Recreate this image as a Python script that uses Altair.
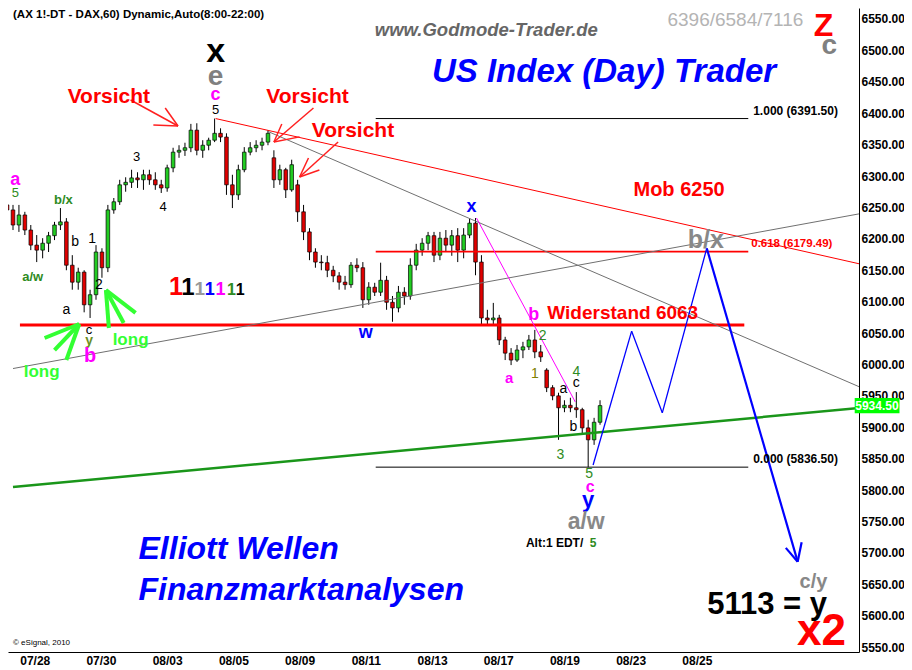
import altair as alt
import pandas as pd

FONT = "Liberation Sans"
W, H = 851, 644

# ---------------- price data (hourly candles, DAX future) ----------------
OPENS = [6254, 6246, 6222, 6238, 6214, 6190, 6182, 6193, 6205, 6222,
         6227, 6158, 6131, 6147, 6095, 6111, 6179, 6154, 6246, 6259,
         6286, 6290, 6297, 6294, 6302, 6294, 6286, 6281, 6313, 6338,
         6341, 6345, 6373, 6341, 6349, 6357, 6368, 6362, 6286, 6270,
         6310, 6338, 6345, 6349, 6354, 6329, 6294, 6310, 6278, 6286,
         6243, 6211, 6179, 6163, 6162, 6150, 6141, 6131, 6127, 6158,
         6154, 6103, 6123, 6115, 6134, 6099, 6090, 6115, 6109, 6158,
         6182, 6193, 6205, 6174, 6201, 6190, 6205, 6182, 6206, 6225,
         6163, 6074, 6071, 6074, 6039, 6018, 6007, 6023, 6028, 6039,
         6020, 5991, 5963, 5950, 5931, 5935, 5931, 5928, 5899, 5880,
         5908]
HIGHS = [6270, 6254, 6254, 6243, 6222, 6206, 6201, 6211, 6227, 6249,
         6233, 6174, 6154, 6150, 6119, 6190, 6185, 6254, 6265, 6294,
         6298, 6310, 6306, 6310, 6310, 6306, 6294, 6318, 6345, 6349,
         6353, 6383, 6384, 6357, 6361, 6391.5, 6376, 6368, 6302, 6318,
         6346, 6354, 6357, 6361, 6373, 6341, 6318, 6313, 6326, 6294,
         6254, 6217, 6185, 6174, 6173, 6157, 6147, 6141, 6163, 6169,
         6163, 6131, 6130, 6162, 6141, 6109, 6125, 6123, 6169, 6192,
         6201, 6211, 6211, 6211, 6214, 6214, 6217, 6217, 6233, 6233,
         6174, 6087, 6098, 6079, 6044, 6026, 6031, 6036, 6047, 6055,
         6031, 5994, 5967, 5955, 5943, 5947, 5956, 5931, 5912, 5915,
         5943]
LOWS = [6238, 6214, 6211, 6206, 6182, 6163, 6169, 6179, 6198, 6214,
        6150, 6119, 6119, 6083, 6074, 6103, 6138, 6147, 6240, 6254,
        6275, 6281, 6281, 6278, 6286, 6278, 6273, 6275, 6306, 6329,
        6332, 6338, 6333, 6329, 6341, 6354, 6354, 6270, 6249, 6262,
        6306, 6333, 6338, 6341, 6349, 6281, 6286, 6265, 6275, 6227,
        6198, 6166, 6154, 6150, 6139, 6131, 6119, 6119, 6122, 6147,
        6090, 6095, 6109, 6109, 6087, 6068, 6083, 6095, 6103, 6150,
        6173, 6182, 6163, 6166, 6179, 6173, 6163, 6169, 6201, 6142,
        6063, 6063, 6063, 6031, 6007, 5999, 6004, 6010, 6023, 6010,
        6004, 5956, 5943, 5880, 5924, 5924, 5915, 5888, 5836.5, 5872,
        5904]
CLOSES = [6246, 6222, 6238, 6214, 6190, 6182, 6193, 6205, 6222, 6227,
          6158, 6131, 6147, 6095, 6111, 6179, 6154, 6246, 6259, 6286,
          6290, 6297, 6294, 6302, 6294, 6286, 6281, 6313, 6338, 6341,
          6345, 6373, 6341, 6349, 6357, 6368, 6362, 6286, 6270, 6310,
          6338, 6345, 6349, 6354, 6368, 6294, 6310, 6278, 6318, 6243,
          6211, 6179, 6163, 6162, 6150, 6141, 6131, 6127, 6158, 6154,
          6103, 6123, 6115, 6134, 6099, 6090, 6115, 6109, 6158, 6182,
          6193, 6205, 6174, 6201, 6190, 6205, 6182, 6206, 6225, 6163,
          6074, 6071, 6074, 6039, 6018, 6007, 6023, 6028, 6039, 6020,
          6012, 5963, 5950, 5931, 5935, 5931, 5928, 5899, 5880, 5908,
          5934.5]

# x axis: bar positions of the date labels
DATES = ["07/28", "07/30", "08/03", "08/05", "08/09", "08/11",
         "08/13", "08/17", "08/19", "08/23", "08/25"]
DATE_POS = [4.67, 15.83, 27.0, 38.17, 49.33, 60.5, 71.67, 82.83, 94.0, 105.17, 116.33]
PRICE_TICKS = [5550, 5600, 5650, 5700, 5750, 5800, 5850, 5900, 5950, 6000, 6050,
               6100, 6150, 6200, 6250, 6300, 6350, 6400, 6450, 6500, 6550]

X_DOMAIN = [1.0, 142.83]
Y_DOMAIN = [5542.2, 6567.5]

# ---------------- drawn lines: (x1, y1, x2, y2, colour, width) ----------------
LEVEL_LINES = [
    (2.17, 6063, 124.33, 6063, "#ff0000", 3),
    (62.17, 6179.49, 125, 6179.49, "#ff0000", 1.8),
    (62.17, 6391.5, 125, 6391.5, "#000000", 1),
    (62.17, 5836.5, 125, 5836.5, "#000000", 1),
]
TREND_LINES = [
    (35.17, 6391.5, 143.83, 6160, "#ff0000", 1),
    (43.83, 6371.6, 143.83, 5964, "#707070", 1),
    (1.0, 5993.5, 143.83, 6240, "#707070", 1),
    (1.0, 5805.0, 143.83, 5930.7, "#1a961a", 2.5),
    (79.17, 6233.1, 95.83, 5940.2, "#ff00ff", 1),
]
PROJECTION = [
    (98.83, 5840, 105.33, 6053, "#0000ff", 1.3),
    (105.33, 6053, 110.5, 5923, "#0000ff", 1.3),
    (110.5, 5923, 118, 6185, "#0000ff", 1.3),
    (118, 6185, 133.33, 5686, "#0000ff", 2.2),
    (131.33, 5708, 133.33, 5686, "#0000ff", 2.2),
    (134.0, 5717, 133.33, 5686, "#0000ff", 2.2),
]
RED_ARROWS = [
    (20.83, 6421, 28.83, 6379.6), (26.67, 6408.3, 28.83, 6379.6), (24.67, 6381.2, 28.83, 6379.6),
    (51.67, 6408.3, 45, 6354.1), (46.33, 6382.8, 45, 6354.1), (49.33, 6362.3, 45, 6354.1),
    (55.83, 6354.1, 49.33, 6298.4), (50.83, 6328.7, 49.33, 6298.4), (52.67, 6309.6, 49.33, 6298.4),
]
GREEN_ARROWS = [
    (6.33, 6042.1, 12.17, 6064.4), (8.0, 6023, 12.17, 6064.4), (10.0, 6007.1, 12.17, 6064.4),
    (17.17, 6058, 16.67, 6118.5), (19.67, 6066, 16.67, 6118.5), (21.67, 6082, 16.67, 6118.5),
]

# ---------------- text annotations: (text, x, y, colour, size) ----------------
GREEN = "#2e8b22"
BOLD_CENTER = [
    ("x", 35.17, 6497.4, "#000000", 34), ("e", 35.17, 6457.6, "#808080", 28),
    ("c", 35.17, 6429, "#ff00ff", 18), ("a", 1.4, 6293.6, "#ff00ff", 18),
    ("b/x", 9.5, 6261.8, GREEN, 13), ("a/w", 4.33, 6139.2, GREEN, 13),
    ("y", 13.83, 6037.3, "#6b8e23", 14), ("b", 14.0, 6013.4, "#ff00ff", 20),
    ("w", 60.5, 6050, "#0000ff", 18), ("x", 78.33, 6250.7, "#0000ff", 18),
    ("b", 88.83, 6078.7, "#ff00ff", 18), ("Widerstand 6063", 103.83, 6081.9, "#ff0000", 19),
    ("a", 84.67, 5978.4, "#ff00ff", 15), ("c", 98.33, 5804.9, "#ff00ff", 16),
    ("y", 98.0, 5784.2, "#0000ff", 22), ("a/w", 97.67, 5749.2, "#888888", 23),
    ("Mob 6250", 113.33, 6277.7, "#ff0000", 20), ("b/x", 117.83, 6198.1, "#888888", 25),
    ("5113 = y", 128.17, 5617, "#000000", 31), ("c/y", 136.0, 5653.7, "#888888", 20),
    ("x2", 137.33, 5574, "#ff0000", 44), ("Z", 137.67, 6539, "#ff0000", 32),
    ("c", 138.67, 6507, "#808080", 28),
    ("long", 20.83, 6038.9, "#33ff33", 17), ("long", 5.83, 5988, "#33ff33", 17),
    ("Vorsicht", 17.17, 6425.8, "#ff0000", 21), ("Vorsicht", 50.67, 6425.8, "#ff0000", 21),
    ("Vorsicht", 58.33, 6371.6, "#ff0000", 21), ("5", 98.83, 5715.7, GREEN, 12),
]
ONES = [
    ("1", 28.5, 6110.6, "#ff0000", 25), ("1", 30.5, 6110.6, "#000000", 24),
    ("1", 32.5, 6110.6, "#999999", 19), ("1", 34.17, 6110.6, "#0000ff", 18),
    ("1", 36.0, 6110.6, "#ff00ff", 18), ("1", 37.83, 6110.6, GREEN, 16),
    ("1", 39.33, 6110.6, "#000000", 16),
]
PLAIN_CENTER = [
    ("5", 35.17, 6405, "#000000", 13), ("5", 1.4, 6273, GREEN, 13),
    ("b", 11.5, 6194.9, "#000000", 14), ("1", 14.33, 6199.7, "#000000", 14),
    ("2", 15.5, 6126.5, "#000000", 14), ("a", 10.0, 6086.7, "#000000", 14),
    ("c", 13.83, 6054.8, "#000000", 13), ("3", 21.83, 6330.3, "#000000", 13),
    ("4", 26.33, 6250.7, "#000000", 13), ("2", 90.33, 6045.3, GREEN, 14),
    ("1", 89.0, 5984.8, "#808000", 14), ("a", 93.83, 5960.9, "#000000", 14),
    ("4", 96.0, 5988, GREEN, 14), ("c", 96.0, 5970.5, "#000000", 14),
    ("b", 95.5, 5900.4, "#000000", 14), ("3", 93.33, 5856, GREEN, 14),
    ("5", 98.17, 5825.6, GREEN, 14), ("6396/6584/7116", 122.83, 6549, "#b4b4b4", 19),
]
ITALIC_CENTER = [
    ("www.Godmode-Trader.de", 80.83, 6532, "#666666", 18.5),
    ("US Index (Day) Trader", 100.67, 6465.6, "#0000ff", 33),
]
ITALIC_LEFT = [
    ("Elliott Wellen", 22.17, 5706.2, "#0000ff", 32),
    ("Finanzmarktanalysen", 22.17, 5640.9, "#0000ff", 32),
]
BOLD_LEFT = [
    ("(AX 1!-DT - DAX,60) Dynamic,Auto(8:00-22:00)", 1.0, 6557, "#000000", 11.5),
    ("1.000 (6391.50)", 125.83, 6403.5, "#000000", 12),
    ("0.000 (5836.50)", 125.83, 5849.5, "#000000", 12),
    ("0.618 (6179.49)", 125.5, 6191.7, "#ff0000", 11.5),
    ("Alt:1 EDT/", 87.5, 5715.7, "#000000", 12),
]
PLAIN_LEFT = [("\u00a9 eSignal, 2010", 1.0, 5557, "#000000", 8)]

LAST_PRICE = 5934.5

# ---------------- chart ----------------
xs = alt.Scale(domain=X_DOMAIN, nice=False, zero=False)
ys = alt.Scale(domain=Y_DOMAIN, nice=False, zero=False)

label_expr = ("[" + ",".join(f"'{d}'" for d in DATES) + "][indexof(["
              + ",".join(str(p) for p in DATE_POS) + "], datum.value)]")
x_axis = alt.Axis(values=DATE_POS, labelExpr=label_expr, title=None, ticks=False, grid=False,
                  domainColor="black", labelFont=FONT, labelFontWeight="bold", labelFontSize=12,
                  labelColor="black", labelPadding=3, labelOverlap=False, labelFlush=False)
y_axis = alt.Axis(orient="right", values=PRICE_TICKS, format=".2f", title=None, ticks=False,
                  grid=False, domainColor="black", labelFont=FONT, labelFontWeight="bold",
                  labelFontSize=12, labelColor="black", labelPadding=2, labelOverlap=False)


def X(field):
    return alt.X(field, scale=xs, axis=x_axis)


def Y(field):
    return alt.Y(field, scale=ys, axis=y_axis)


cdf = pd.DataFrame({"bar": list(range(len(CLOSES))), "open": OPENS, "high": HIGHS,
                    "low": LOWS, "close": CLOSES})
base = alt.Chart(cdf)
wicks = base.mark_rule(color="black", strokeWidth=1, clip=True).encode(
    x=X("bar:Q"), y=Y("low:Q"), y2="high:Q")
bodies = base.mark_bar(width=3.6, stroke="black", strokeWidth=0.7, clip=True).encode(
    x=X("bar:Q"), y=Y("open:Q"), y2="close:Q",
    color=alt.condition("datum.close >= datum.open", alt.value("#22cc22"), alt.value("#e00000")),
)


def seg_layer(rows, color=None, width=None):
    if color is not None:
        rows = [r + (color, width) for r in rows]
    df = pd.DataFrame(rows, columns=["x1", "y1", "x2", "y2", "c", "w"])
    return alt.Chart(df).mark_rule(strokeCap="butt", clip=True).encode(
        x=X("x1:Q"), y=Y("y1:Q"), x2="x2:Q", y2="y2:Q",
        color=alt.Color("c:N", scale=None),
        strokeWidth=alt.StrokeWidth("w:Q", scale=None),
    )


def text_layer(rows, **kw):
    df = pd.DataFrame(rows, columns=["t", "x", "y", "c", "s"])
    return alt.Chart(df).mark_text(font=FONT, **kw).encode(
        x=X("x:Q"), y=Y("y:Q"), text="t:N",
        color=alt.Color("c:N", scale=None),
        size=alt.Size("s:Q", scale=None),
    )


box_df = pd.DataFrame({"x1": [142.95], "x2": [150.5], "y1": [LAST_PRICE - 12],
                       "y2": [LAST_PRICE + 12], "xm": [146.7], "p": [LAST_PRICE]})
box = alt.Chart(box_df).mark_rect(color="#00ff00", clip=False).encode(
    x=X("x1:Q"), x2="x2:Q", y=Y("y1:Q"), y2="y2:Q")
box_text = alt.Chart(box_df).mark_text(font=FONT, fontWeight="bold", fontSize=12,
                                       color="white", clip=False).encode(
    x=X("xm:Q"), y=Y("p:Q"), text=alt.Text("p:Q", format=".2f"))

chart = alt.layer(
    wicks, bodies,
    seg_layer(LEVEL_LINES), seg_layer(TREND_LINES), seg_layer(PROJECTION),
    seg_layer(RED_ARROWS, "#ff2020", 1.5), seg_layer(GREEN_ARROWS, "#33ff33", 4),
    text_layer(BOLD_CENTER, fontWeight="bold", align="center", baseline="middle"),
    text_layer(ONES, fontWeight="bold", align="center", baseline="alphabetic"),
    text_layer(PLAIN_CENTER, align="center", baseline="middle"),
    text_layer(ITALIC_CENTER, fontWeight="bold", fontStyle="italic", align="center", baseline="middle"),
    text_layer(ITALIC_LEFT, fontWeight="bold", fontStyle="italic", align="left", baseline="middle"),
    text_layer(BOLD_LEFT, fontWeight="bold", align="left", baseline="middle"),
    text_layer(PLAIN_LEFT, align="left", baseline="middle"),
    box, box_text,
).properties(
    width=W, height=H, background="white",
    autosize=alt.AutoSizeParams(type="none"),
    padding={"left": 0, "top": 0, "right": 45, "bottom": 16},
).configure_view(strokeWidth=0)

chart.save("out.html", embed_options={"renderer": "svg", "actions": False})
